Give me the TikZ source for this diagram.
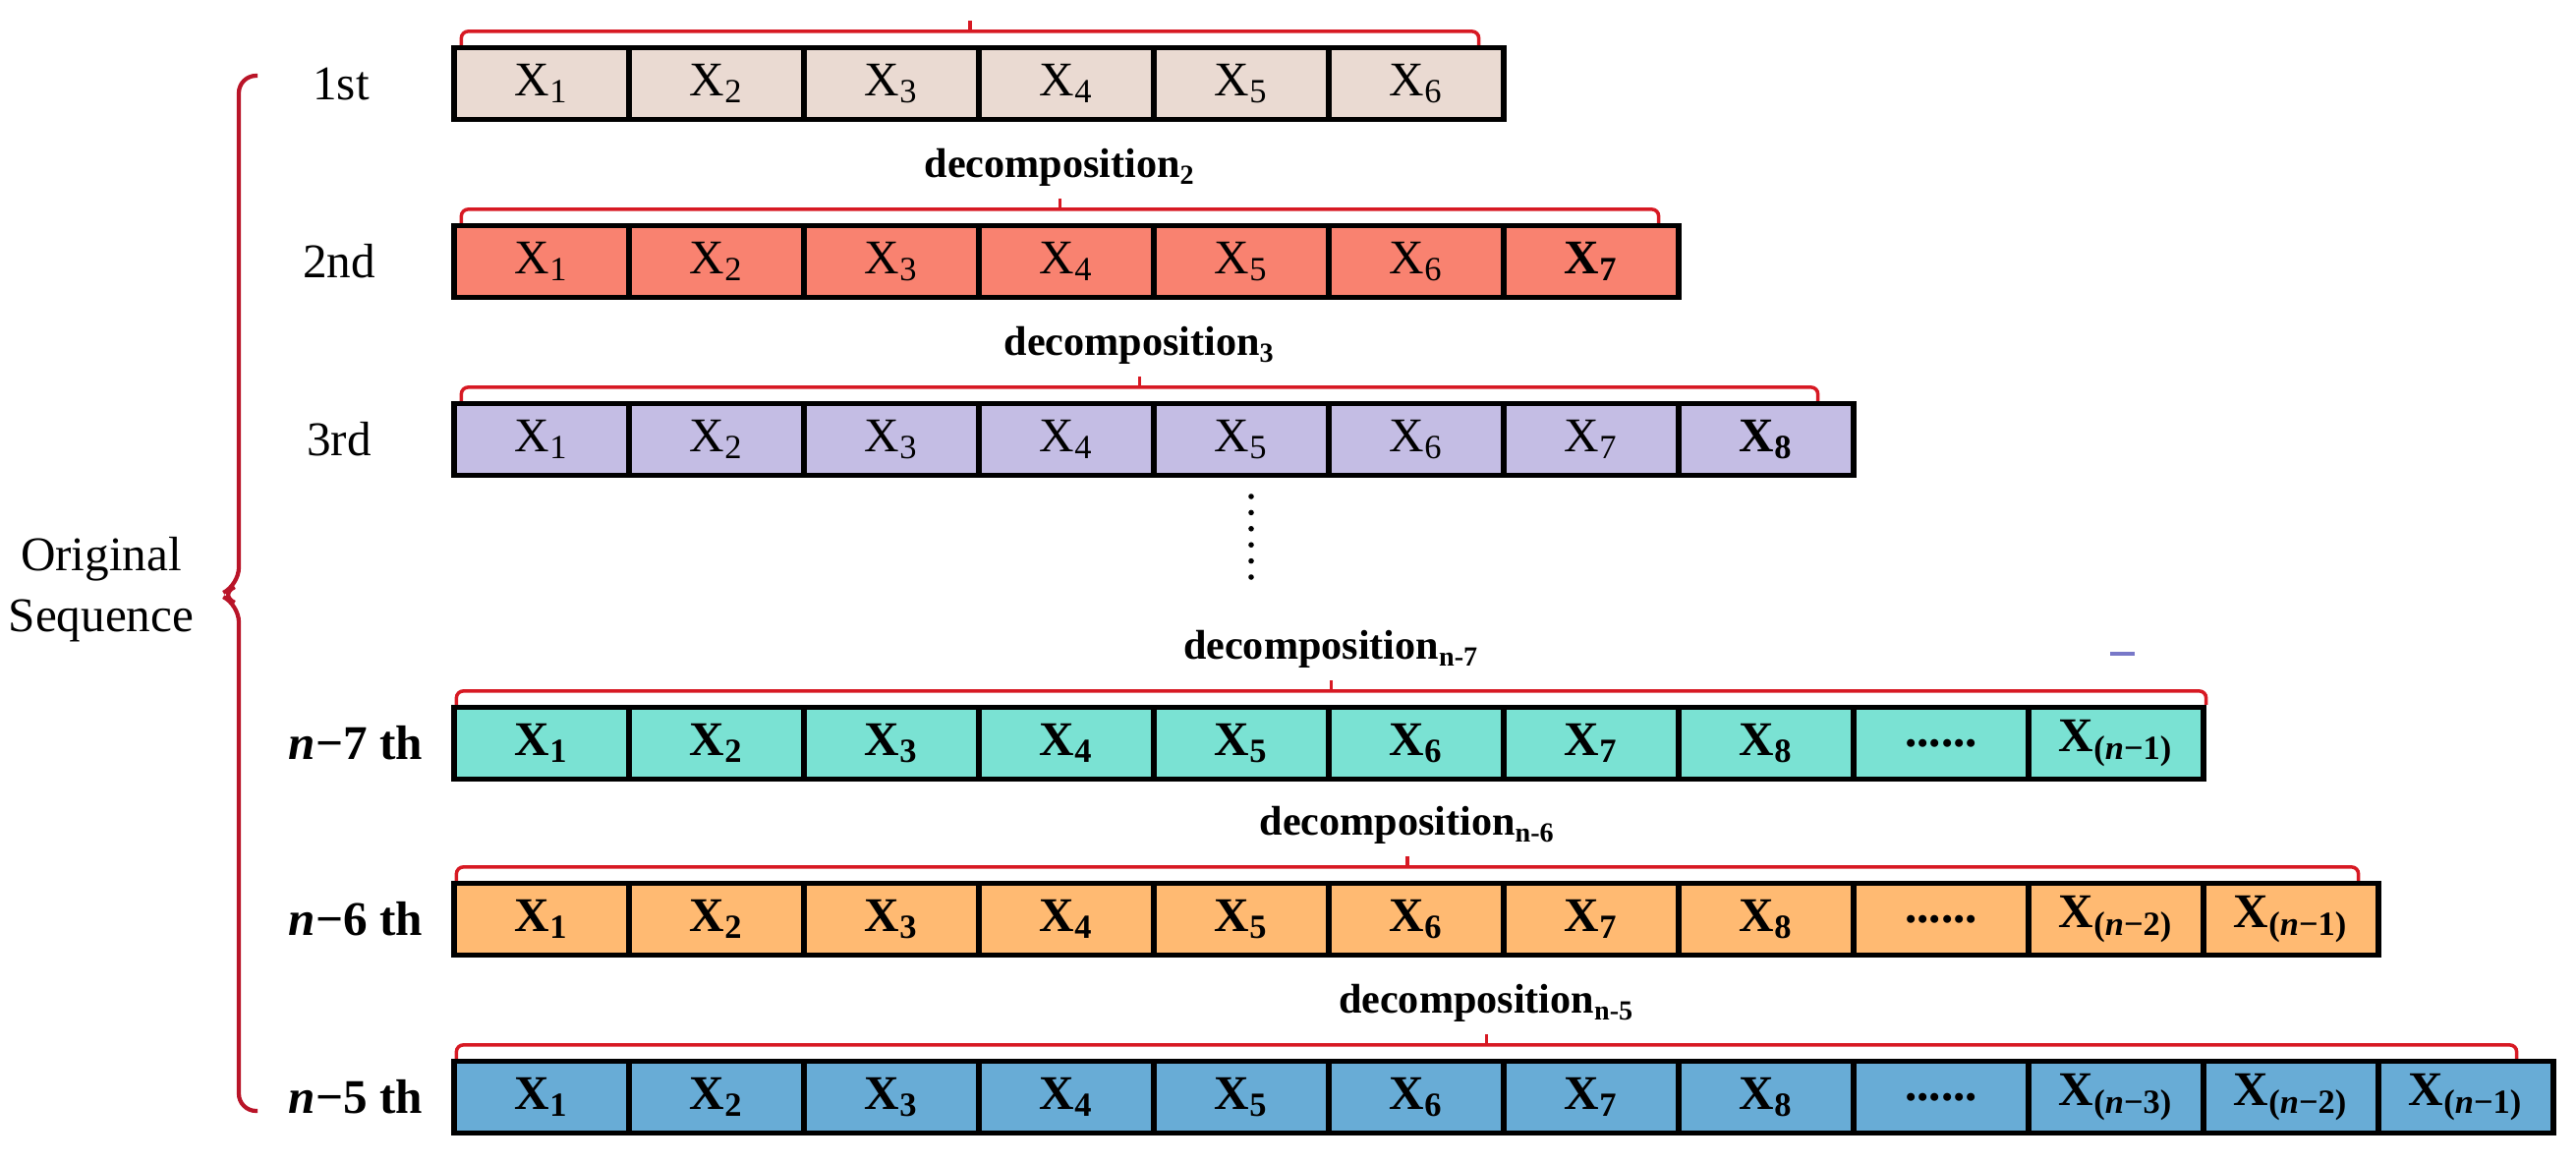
\documentclass[tikz,border=0pt]{standalone}
\usepackage{fontspec}
\setmainfont{Liberation Serif}
\usetikzlibrary{calc}

\definecolor{rowfirst}{RGB}{234,218,210}
\definecolor{rowsecond}{RGB}{249,130,112}
\definecolor{rowthird}{RGB}{196,189,228}
\definecolor{rowseven}{RGB}{122,226,211}
\definecolor{rowsix}{RGB}{255,186,114}
\definecolor{rowfive}{RGB}{104,172,214}
\definecolor{bracered}{RGB}{215,25,35}
\definecolor{bigred}{RGB}{185,20,40}

\begin{document}
\begin{tikzpicture}[
    cell/.style={draw, line width=1.5pt, minimum width=1.78cm, minimum height=0.73cm, inner sep=0pt, font=\fontsize{14}{17}\selectfont},
    bcell/.style={cell, font=\fontsize{14}{17}\selectfont\bfseries},
    rowlabel/.style={font=\fontsize{14}{17.6}\selectfont},
    bracket/.style={draw=bracered, line width=1pt, rounded corners=2pt},
    declabel/.style={anchor=base, yshift=0.21cm, font=\fontsize{12}{14}\selectfont\bfseries}]
  \useasboundingbox (0,0) rectangle (26.21,-11.83);
  % 1st
  \node[rowlabel] (l1) at (3.47,-0.85) {1st};
  \foreach \k in {1,...,6}
    \node[cell, fill=rowfirst] (a\k) at ({3.73+1.78*\k},-0.85) {X\textsubscript{\k}};
  \coordinate (bs1) at ([xshift=0.1cm]a1.north west);
  \coordinate (be1) at ([xshift=-0.28cm]a6.north east);
  \draw[bracket] (bs1) -- ++(0,0.14) -| (be1);
  \draw[bracket] ($(bs1)!0.5!(be1)+(0,0.14)$) -- ++(0,0.11);
  % 2nd
  \node[rowlabel] (l2) at (3.45,-2.66) {2nd};
  \foreach \k in {1,...,6}
    \node[cell, fill=rowsecond] (b\k) at ({3.73+1.78*\k},-2.66) {X\textsubscript{\k}};
  \node[bcell, fill=rowsecond] (b7) at (16.19,-2.66) {X\textsubscript{7}};
  \coordinate (bs2) at ([xshift=0.1cm]b1.north west);
  \coordinate (be2) at ([xshift=-0.23cm]b7.north east);
  \draw[bracket] (bs2) -- ++(0,0.14) -| (be2);
  \draw[bracket] ($(bs2)!0.5!(be2)+(0,0.14)$) -- ++(0,0.11)
    node[declabel] {decomposition\textsubscript{2}};
  % 3rd
  \node[rowlabel] (l3) at (3.45,-4.47) {3rd};
  \foreach \k in {1,...,7}
    \node[cell, fill=rowthird] (c\k) at ({3.73+1.78*\k},-4.47) {X\textsubscript{\k}};
  \node[bcell, fill=rowthird] (c8) at (17.97,-4.47) {X\textsubscript{8}};
  \coordinate (bs3) at ([xshift=0.1cm]c1.north west);
  \coordinate (be3) at ([xshift=-0.39cm]c8.north east);
  \draw[bracket] (bs3) -- ++(0,0.14) -| (be3);
  \draw[bracket] ($(bs3)!0.5!(be3)+(0,0.14)$) -- ++(0,0.11)
    node[declabel] {decomposition\textsubscript{3}};
  % skipped rows
  \foreach \k in {0,...,5}
    \fill (12.73,{-5.05-0.164*\k}) circle (0.028);
  \draw[draw={rgb,255:red,120;green,120;blue,200}, line width=1pt] (21.47,-6.65) -- (21.72,-6.65);
  % n-7 th
  \node[rowlabel, font=\fontsize{14}{17}\selectfont\bfseries] (l7) at (3.62,-7.56) {\textit{n}−7 th};
  \foreach \k in {1,...,8}
    \node[bcell, fill=rowseven] (d\k) at ({3.73+1.78*\k},-7.56) {X\textsubscript{\k}};
  \node[bcell, fill=rowseven] (d9) at (19.75,-7.56) {......};
  \node[bcell, fill=rowseven] (d10) at (21.53,-7.56) {X\textsubscript{(\textit{n}−1)}};
  \coordinate (bs7) at ([xshift=0.05cm]d1.north west);
  \coordinate (be7) at (d10.north east);
  \draw[bracket] (bs7) -- ++(0,0.14) -| (be7);
  \draw[bracket] ($(bs7)!0.5!(be7)+(0,0.14)$) -- ++(0,0.11)
    node[declabel] {decomposition\textsubscript{n-7}};
  % n-6 th
  \node[rowlabel, font=\fontsize{14}{17}\selectfont\bfseries] (l6) at (3.62,-9.35) {\textit{n}−6 th};
  \foreach \k in {1,...,8}
    \node[bcell, fill=rowsix] (e\k) at ({3.73+1.78*\k},-9.35) {X\textsubscript{\k}};
  \node[bcell, fill=rowsix] (e9) at (19.75,-9.35) {......};
  \node[bcell, fill=rowsix] (e10) at (21.53,-9.35) {X\textsubscript{(\textit{n}−2)}};
  \node[bcell, fill=rowsix] (e11) at (23.31,-9.35) {X\textsubscript{(\textit{n}−1)}};
  \coordinate (bs6) at ([xshift=0.05cm]e1.north west);
  \coordinate (be6) at ([xshift=-0.23cm]e11.north east);
  \draw[bracket] (bs6) -- ++(0,0.14) -| (be6);
  \draw[bracket] ($(bs6)!0.5!(be6)+(0,0.14)$) -- ++(0,0.11)
    node[declabel] {decomposition\textsubscript{n-6}};
  % n-5 th
  \node[rowlabel, font=\fontsize{14}{17}\selectfont\bfseries] (l5) at (3.62,-11.16) {\textit{n}−5 th};
  \foreach \k in {1,...,8}
    \node[bcell, fill=rowfive] (f\k) at ({3.73+1.78*\k},-11.16) {X\textsubscript{\k}};
  \node[bcell, fill=rowfive] (f9) at (19.75,-11.16) {......};
  \node[bcell, fill=rowfive] (f10) at (21.53,-11.16) {X\textsubscript{(\textit{n}−3)}};
  \node[bcell, fill=rowfive] (f11) at (23.31,-11.16) {X\textsubscript{(\textit{n}−2)}};
  \node[bcell, fill=rowfive] (f12) at (25.09,-11.16) {X\textsubscript{(\textit{n}−1)}};
  \coordinate (bs5) at ([xshift=0.05cm]f1.north west);
  \coordinate (be5) at ([xshift=-0.40cm]f12.north east);
  \draw[bracket] (bs5) -- ++(0,0.14) -| (be5);
  \draw[bracket] ($(bs5)!0.5!(be5)+(0,0.14)$) -- ++(0,0.11)
    node[declabel] {decomposition\textsubscript{n-5}};
  % whole sequence
  \node[rowlabel, align=center] (orig) at (1.03,-6.0) {Original\\Sequence};
  \coordinate (btop) at (2.62,-0.77);
  \coordinate (bbot) at (2.62,-11.30);
  \coordinate (btip) at (2.23,-6.05);
  \draw[draw=bigred, line width=1.2pt, rounded corners=5pt]
    (btop) -- (2.43,-0.77) -- (2.43,-5.95) -- (btip) -- (2.43,-6.15) -- (2.43,-11.30) -- (bbot);
\end{tikzpicture}
\end{document}
